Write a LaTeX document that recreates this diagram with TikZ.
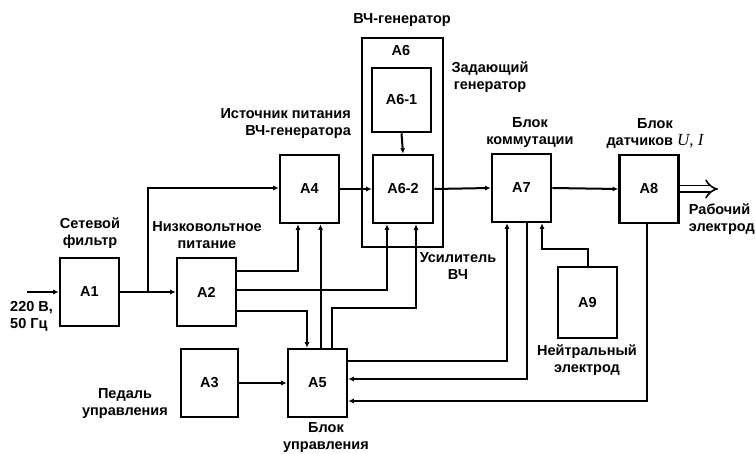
\documentclass[tikz,border=0pt]{standalone}
\usepackage{fontspec}
\setmainfont{Liberation Sans}
\newfontfamily\serifit{Liberation Serif}
\usetikzlibrary{arrows.meta}

\begin{document}
\begin{tikzpicture}[x=1pt, y=-1pt,
  font=\fontsize{14.5}{17}\selectfont\bfseries,
  blk/.style={draw, line width=2.6pt, minimum width=59pt, minimum height=68pt, inner sep=0pt},
  txt/.style={align=center, inner sep=0pt},
  arr/.style={line width=2pt, -{Latex[length=5.5pt,width=5pt]}},
  ln/.style={line width=2pt}]
\useasboundingbox (0,0) rectangle (756,454);
% frame of the generator
\node[draw, line width=1.6pt, minimum width=81pt, minimum height=209pt, inner sep=0pt] (A6) at (402.5,142.5) {};
\node[txt] (A6lbl) at (401,51) {A6};
\node[txt] (A6top) at (402,20) {ВЧ-генератор};
% blocks
\node[blk] (A1) at (89.5,292) {A1};
\node[blk] (A2) at (206.5,292) {A2};
\node[blk, minimum width=57pt] (A3) at (209.5,383) {A3};
\node[blk] (A4) at (309.5,189) {A4};
\node[blk] (A5) at (317.5,383) {A5};
\node[blk, minimum height=64pt] (A61) at (401.5,100) {A6-1};
\node[blk, minimum width=60pt] (A62) at (403,189) {A6-2};
\node[blk] (A7) at (521.5,188) {A7};
\node[blk] (A8) at (649,189) {A8};
\node[blk, minimum height=71pt] (A9) at (587.5,302.5) {A9};
% texts
\node[txt] (t1) at (90,233) {Сетевой\\фильтр};
\node[txt] (t2) at (207,235) {Низковольтное\\питание};
\node[txt, align=right, anchor=east] (t4) at (351,124) {Источник питания\\ВЧ-генератора};
\node[txt] (t61) at (490,77) {Задающий\\генератор};
\node[txt] (t62) at (458,266) {Усилитель\\ВЧ};
\node[txt] (t7) at (530,133) {Блок\\коммутации};
\node[txt] (t8) at (655,133) {Блок\\датчиков {\serifit\mdseries\itshape\fontsize{17}{17}\selectfont U, I}};
\node[txt, align=left, anchor=east] (t8out) at (755,219) {Рабочий\\электрод};
\node[txt] (t9) at (587,360) {Нейтральный\\электрод};
\node[txt] (t3) at (125,404) {Педаль\\управления};
\node[txt] (t5) at (326,438) {Блок\\управления};
\node[txt, align=left, anchor=west] (tin) at (10,316) {220 В,\\50 Гц};
\coordinate (in) at (27,292);
\coordinate (br) at (148,292);
\coordinate (out) at (718,189);
% connectors
\draw[arr] (in) -- (A1.west);
\draw[arr] (A1.east) -- (A2.west);
\draw[arr] (br) |- ([yshift=1]A4.west);
\draw[arr] (A4.east) -- (A62.west);
\draw[arr] (A61.south) -- (A62.north);
\draw[arr] (A62.east) -- (A7.west);
\draw[arr] (A7.east) -- (A8.west);
\draw[line width=1.6pt, double, double distance=5pt, -{Implies[length=9pt,width=15pt]}] (A8.east) -- (out);
\draw[arr] ([yshift=21]A2.east) -| ([xshift=-11.5]A4.south);
\draw[arr] ([yshift=2]A2.east) -| ([xshift=-16]A62.south);
\draw[arr] ([yshift=-19]A2.east) -| ([xshift=-10.5]A5.north);
\draw[arr] ([xshift=3]A5.north) -- ([xshift=11]A4.south);
\draw[arr] ([xshift=14.5]A5.north) -- ++(0,-40) -| ([xshift=13]A62.south);
\draw[arr] ([yshift=22]A5.east) -| ([xshift=-14.5]A7.south);
\draw[arr] ([xshift=5.5]A7.south) |- ([yshift=4]A5.east);
\draw[arr] (A9.north) -- ++(0,-17) -| ([xshift=20.5]A7.south);
\draw[arr] ([xshift=-2]A8.south) |- ([yshift=-18]A5.east);
\draw[arr] (A3.east) -- (A5.west);
\end{tikzpicture}
\end{document}
